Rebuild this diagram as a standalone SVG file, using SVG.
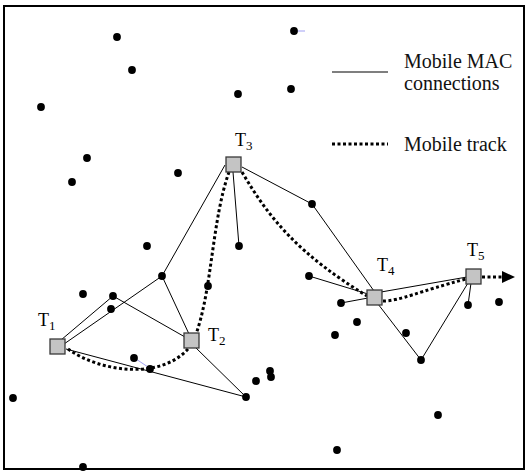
<svg xmlns="http://www.w3.org/2000/svg" width="529" height="472" viewBox="0 0 529 472">
<style>
.frame{fill:#fff;stroke:#000;stroke-width:2}
.c{stroke:#000;stroke-width:1;fill:none}
.trk{stroke:#000;stroke-width:3;fill:none;stroke-dasharray:3 2.5}
.dot{fill:#000}
.sq{fill:#c4c4c4;stroke:#3a3a3a;stroke-width:1.3}
.lbl{font-family:"Liberation Serif","Times New Roman",serif;font-size:18px;fill:#000}
.sub{font-size:13px}
.leg{font-family:"Liberation Serif","Times New Roman",serif;font-size:20px;fill:#111}
.faint{stroke:#7a7aee;stroke-width:0.7}
</style>
<rect class="frame" x="4" y="6" width="520" height="463"/>
<g id="legend">
<line x1="332" y1="72" x2="388" y2="72" stroke="#555" stroke-width="1.5"/>
<text class="leg" x="404" y="68">Mobile MAC</text>
<text class="leg" x="404" y="90">connections</text>
<line class="trk" x1="332" y1="144" x2="388" y2="144"/>
<text class="leg" x="404" y="151">Mobile track</text>
</g>
<g id="connectors">
<line class="c" x1="225" y1="165" x2="162" y2="276"/>
<line class="c" x1="233" y1="172" x2="239" y2="246"/>
<line class="c" x1="242" y1="167" x2="312" y2="204"/>
<line class="c" x1="312" y1="204" x2="374" y2="291"/>
<line class="c" x1="309" y1="276" x2="368" y2="294"/>
<line class="c" x1="341" y1="303" x2="368" y2="298"/>
<line class="c" x1="381" y1="292" x2="467" y2="277"/>
<line class="c" x1="378" y1="304" x2="421" y2="360"/>
<line class="c" x1="421" y1="360" x2="468" y2="283"/>
<line class="c" x1="471" y1="283" x2="468" y2="305"/>
<line class="c" x1="61" y1="340" x2="113" y2="296"/>
<line class="c" x1="64" y1="344" x2="162" y2="276"/>
<line class="c" x1="113" y1="296" x2="185" y2="337"/>
<line class="c" x1="162" y1="276" x2="189" y2="334"/>
<line class="c" x1="66" y1="349" x2="246" y2="397"/>
<line class="c" x1="195" y1="347" x2="246" y2="397"/>
<line class="faint" x1="296" y1="31" x2="305" y2="31"/>
<line class="faint" x1="136" y1="359" x2="148" y2="367"/>
<path class="trk" d="M229,172 C212,220 212,290 196,334"/>
<path class="trk" d="M242,172 C270,220 300,255 367,296"/>
<path class="trk" d="M383,301 C400,301 420,291 466,279"/>
<path class="trk" d="M68,349 C100,372 160,380 188,349"/>
<line class="trk" x1="482" y1="277" x2="503" y2="277"/>
<polygon points="502,271 515,277 502,283" fill="#000"/>
</g>
<g id="sensors">
<circle class="dot" cx="117" cy="37" r="3.9"/>
<circle class="dot" cx="132" cy="70" r="3.9"/>
<circle class="dot" cx="238" cy="94" r="3.9"/>
<circle class="dot" cx="41" cy="107" r="3.9"/>
<circle class="dot" cx="87" cy="158" r="3.9"/>
<circle class="dot" cx="72" cy="182" r="3.9"/>
<circle class="dot" cx="178" cy="173" r="3.9"/>
<circle class="dot" cx="294" cy="31" r="3.9"/>
<circle class="dot" cx="291" cy="89" r="3.9"/>
<circle class="dot" cx="312" cy="204" r="3.9"/>
<circle class="dot" cx="147" cy="246" r="3.9"/>
<circle class="dot" cx="239" cy="246" r="3.9"/>
<circle class="dot" cx="162" cy="276" r="3.9"/>
<circle class="dot" cx="208" cy="286" r="3.9"/>
<circle class="dot" cx="83" cy="294" r="3.9"/>
<circle class="dot" cx="113" cy="296" r="3.9"/>
<circle class="dot" cx="111" cy="309" r="3.9"/>
<circle class="dot" cx="134" cy="358" r="3.9"/>
<circle class="dot" cx="150" cy="369" r="3.9"/>
<circle class="dot" cx="256" cy="381" r="3.9"/>
<circle class="dot" cx="246" cy="397" r="3.9"/>
<circle class="dot" cx="13" cy="398" r="3.9"/>
<circle class="dot" cx="83" cy="467" r="3.9"/>
<circle class="dot" cx="309" cy="276" r="3.9"/>
<circle class="dot" cx="341" cy="303" r="3.9"/>
<circle class="dot" cx="357" cy="322" r="3.9"/>
<circle class="dot" cx="335" cy="335" r="3.9"/>
<circle class="dot" cx="406" cy="333" r="3.9"/>
<circle class="dot" cx="421" cy="360" r="3.9"/>
<circle class="dot" cx="468" cy="305" r="3.9"/>
<circle class="dot" cx="499" cy="302" r="3.9"/>
<circle class="dot" cx="270" cy="371" r="3.9"/>
<circle class="dot" cx="271" cy="377" r="3.9"/>
<circle class="dot" cx="438" cy="415" r="3.9"/>
<circle class="dot" cx="337" cy="450" r="3.9"/>
</g>
<g id="T1">
<rect class="sq" x="50" y="339" width="15" height="15"/>
<text class="lbl" x="38" y="326">T<tspan class="sub" dy="4">1</tspan></text>
</g>
<g id="T2">
<rect class="sq" x="184" y="333" width="15" height="15"/>
<text class="lbl" x="208" y="341">T<tspan class="sub" dy="4">2</tspan></text>
</g>
<g id="T3">
<rect class="sq" x="226" y="157" width="15" height="15"/>
<text class="lbl" x="235" y="146">T<tspan class="sub" dy="4">3</tspan></text>
</g>
<g id="T4">
<rect class="sq" x="367" y="290" width="15" height="15"/>
<text class="lbl" x="377" y="271">T<tspan class="sub" dy="4">4</tspan></text>
</g>
<g id="T5">
<rect class="sq" x="466" y="269" width="15" height="15"/>
<text class="lbl" x="467" y="256">T<tspan class="sub" dy="4">5</tspan></text>
</g>
</svg>
